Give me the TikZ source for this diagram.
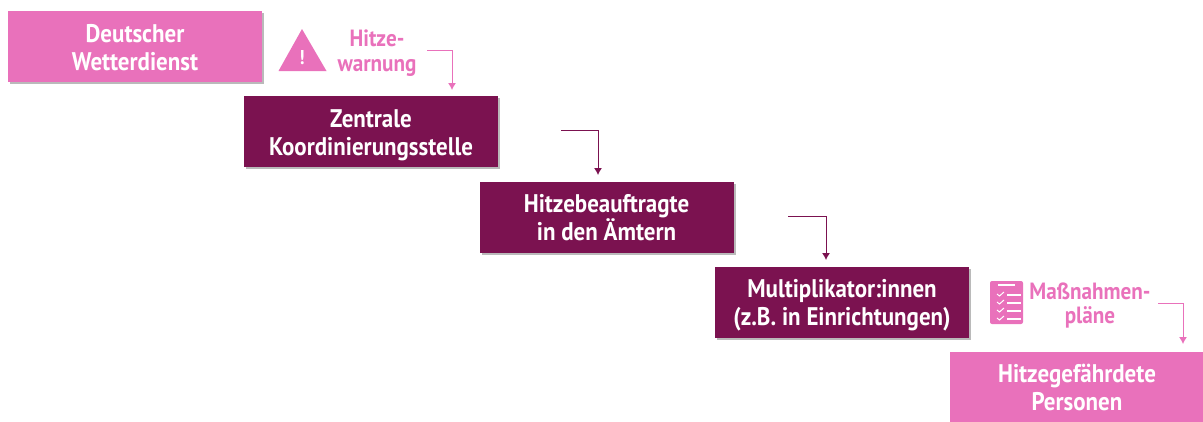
\documentclass[tikz,border=0pt]{standalone}
\usepackage{fontspec}
\setmainfont{PT Sans}[FakeStretch=0.9]
\usetikzlibrary{shadows,arrows.meta}
\definecolor{hitzepink}{RGB}{233,113,187}
\definecolor{hitzelila}{RGB}{123,18,80}
\tikzset{
  stufe/.style={minimum width=254pt,minimum height=71pt,inner sep=0pt,align=center,
    text height=58pt,text depth=11pt,
    text=white,font=\fontsize{25.5}{28}\selectfont\bfseries,
    drop shadow={shadow xshift=2pt,shadow yshift=-2pt,fill=black!45,opacity=.6}},
  hell/.style={stufe,fill=hitzepink},
  dunkel/.style={stufe,fill=hitzelila},
  beschrift/.style={text=hitzepink,align=center,inner sep=0pt,
    font=\fontsize{23.5}{24.5}\selectfont\bfseries},
  pfeilhell/.style={draw=hitzepink,line width=1pt,-{Latex[length=7pt,width=8pt]}},
  pfeildunkel/.style={draw=hitzelila,line width=1pt,-{Latex[length=7pt,width=8pt]}}
}
\begin{document}
\begin{tikzpicture}[x=1pt,y=-1pt]
    \useasboundingbox (0,0) rectangle (1203,421);
    \clip (0,0) rectangle (1203,421);
    % Stufen
    \node[hell] (dwd) at (135,46.5) {Deutscher\\Wetterdienst};
    \node[dunkel] (zentrale) at (371,131.5) {Zentrale\\Koordinierungsstelle};
    \node[dunkel] (aemter) at (606.5,217) {Hitzebeauftragte\\in den Ämtern};
    \node[dunkel] (multi) at (842,302) {Multiplikator:innen\\(z.B. in Einrichtungen)};
    \node[hell] (personen) at (1077,387) {Hitzegefährdete\\Personen};
    % Beschriftungen
    \node[beschrift] (warnung) at (377,53) {Hitze-\\warnung};
    \node[beschrift] (plaene) at (1090,305.5) {Maßnahmen-\\pläne};
    % Warnsymbol
    \fill[hitzepink] (302,29) -- (326.5,71) -- (278.5,71) -- cycle;
    \node[text=white,inner sep=0pt,font=\fontsize{20}{20}\selectfont\bfseries] (warnzeichen) at (302,58) {!};
    % Liste
    \fill[hitzepink,rounded corners=2pt] (990,281) rectangle (1023,324);
    \draw[white,line width=1.6pt] (998,285) -- (1015,285);
    \foreach \y in {295,303,311,319}{
      \draw[white,line width=1.3pt] (1007,\y) -- (1021,\y);
      \draw[white,line width=1pt] (997,\y-1) -- (999.5,\y+1) -- (1004,\y-3);
    }
    % Pfeile
    \coordinate (start1) at (427,50);
    \coordinate (ziel1) at (452,90);
    \coordinate (start2) at (561,130);
    \coordinate (ziel2) at (598,175);
    \coordinate (start3) at (788,216);
    \coordinate (ziel3) at (826,260);
    \coordinate (start4) at (1158,303);
    \coordinate (ziel4) at (1183,344);
    \draw[pfeilhell] (start1) -| (ziel1);
    \draw[pfeildunkel] (start2) -| (ziel2);
    \draw[pfeildunkel] (start3) -| (ziel3);
    \draw[pfeilhell] (start4) -| (ziel4);
  \end{tikzpicture}
\end{document}
